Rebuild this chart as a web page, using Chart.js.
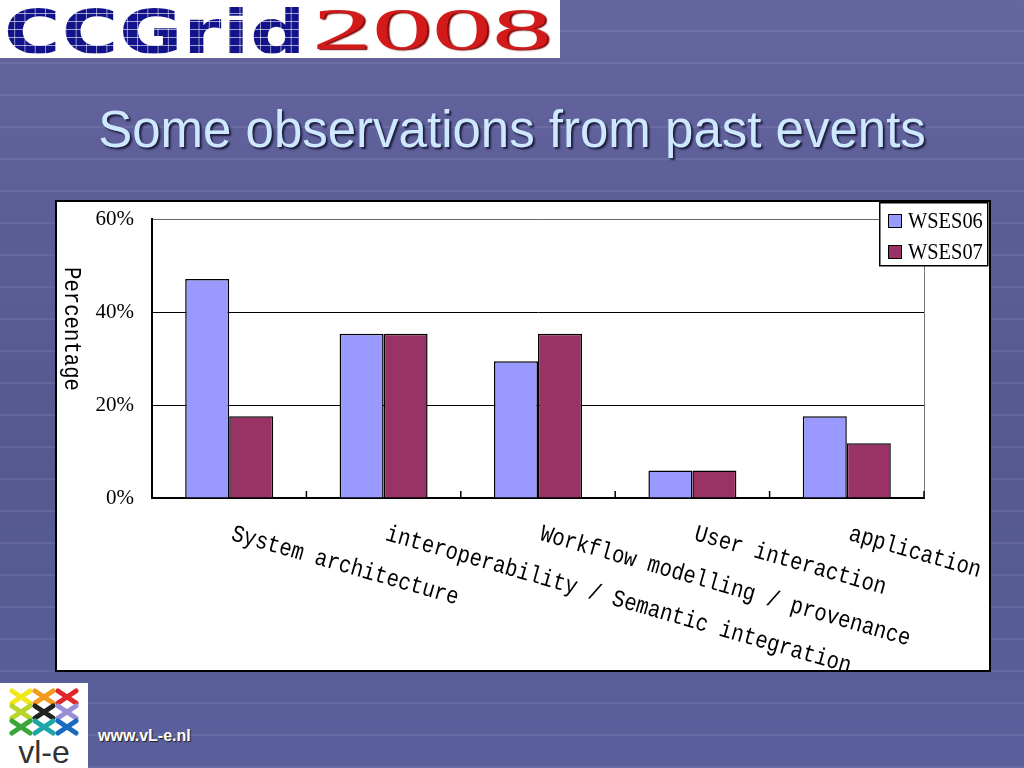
<!DOCTYPE html>
<html>
<head>
<meta charset="utf-8">
<script src="https://cdn.jsdelivr.net/npm/chart.js@4.4.0/dist/chart.umd.min.js"></script>
<style>
  body {
    margin: 0; width: 1024px; height: 768px; overflow: hidden; position: relative;
    background:
      repeating-linear-gradient(to bottom, transparent 0, transparent 30px, rgba(255,255,255,0.07) 30px, rgba(255,255,255,0.07) 32px),
      linear-gradient(to bottom, #66669f 0%, #5b5d97 30%, #55598f 60%, #5b5f9c 100%);
    font-family: "Liberation Sans", Arial, sans-serif;
  }
  #logo { position: absolute; left: 0; top: 0; width: 560px; height: 58px; background: #fff; overflow: hidden; }
  #ccgrid {
    position: absolute; left: 4px; top: -3px; font: bold 60px "DejaVu Sans", sans-serif;
    transform: scaleX(1.28); transform-origin: left top; letter-spacing: 1px;
    background-color: #12128a;
    background-image: linear-gradient(90deg, rgba(255,255,255,0.6) 1px, transparent 1px),
                      linear-gradient(rgba(255,255,255,0.6) 1px, transparent 1px);
    background-size: 8px 8px;
    -webkit-background-clip: text; background-clip: text; -webkit-text-fill-color: transparent;
  }
  #y2008 {
    position: absolute; left: 312px; top: -5px; font: 60px "Liberation Serif", serif; color: #d21a1a;
    transform: scaleX(2.0); transform-origin: left top; text-shadow: 1px 1px 1px #7a0000;
  }
  #title {
    position: absolute; left: 0; top: 100px; width: 1024px; text-align: center;
    font: 51px "Liberation Sans", Arial, sans-serif; color: #cde8ff; line-height: 60px;
    text-shadow: 2px 2px 2px #1c1c3c;
  }
  #box { position: absolute; left: 55px; top: 200px; width: 932px; height: 468px; border: 2px solid #000; background: #fff; }
  #vle { position: absolute; left: 0; top: 683px; width: 88px; height: 85px; background: #fff; }
  #url {
    position: absolute; left: 98px; top: 727px; font: bold 16px "Liberation Sans", Arial, sans-serif;
    color: #fff; text-shadow: 1px 1px 1px #222;
  }
</style>
</head>
<body>
<div id="logo"><span id="ccgrid">CCGrid</span><span id="y2008">2008</span></div>
<div id="title">Some observations from past events</div>
<div id="box"><canvas id="c" width="932" height="468"></canvas></div>
<div id="vle">
  <svg width="88" height="85" viewBox="0 0 88 85">
    <g stroke-width="5" stroke-linecap="round">
      <path d="M12 8 L30 20 M30 8 L12 20" stroke="#f2e61c"/>
      <path d="M35 8 L53 20 M53 8 L35 20" stroke="#f39a1e"/>
      <path d="M58 8 L76 20 M76 8 L58 20" stroke="#e0262a"/>
      <path d="M12 23 L30 35 M30 23 L12 35" stroke="#b8d42a"/>
      <path d="M35 23 L53 35 M53 23 L35 35" stroke="#222"/>
      <path d="M58 23 L76 35 M76 23 L58 35" stroke="#9a8ed6"/>
      <path d="M12 38 L30 50 M30 38 L12 50" stroke="#3aa63a"/>
      <path d="M35 38 L53 50 M53 38 L35 50" stroke="#1ea6a6"/>
      <path d="M58 38 L76 50 M76 38 L58 50" stroke="#1a6ac0"/>
    </g>
    <text x="44" y="80" text-anchor="middle" font-family="Liberation Sans, sans-serif" font-size="32" fill="#333">vl-e</text>
  </svg>
</div>
<div id="url">www.vL-e.nl</div>

<script>
const categories = ['System architecture', 'interoperability / Semantic integration', 'Workflow modelling / provenance', 'User interaction', 'application'];
const seriesNames = ['WSES06', 'WSES07'];
const wses06 = [47.1, 35.3, 29.4, 5.9, 17.6];
const wses07 = [17.6, 35.3, 35.3, 5.9, 11.8];
const yTicks = [0, 20, 40, 60];
const colors = ['#9999ff', '#993366'];

// dibuja etiquetas giradas, título del eje y leyenda con recuadro
const overlay = {
  id: 'overlay',
  afterDraw(chart) {
    const { ctx, chartArea: a, scales: { x } } = chart;
    ctx.save();
    // borde derecho gris del área
    ctx.strokeStyle = '#777'; ctx.lineWidth = 1;
    ctx.beginPath(); ctx.moveTo(a.right + 0.5, a.top); ctx.lineTo(a.right + 0.5, a.bottom); ctx.stroke();
    // marcas del eje x hacia dentro, entre categorías
    ctx.strokeStyle = '#000'; ctx.lineWidth = 1.5;
    for (let i = 1; i <= categories.length; i++) {
      const px = i < categories.length ? (x.getPixelForTick(i - 1) + x.getPixelForTick(i)) / 2 : a.right;
      ctx.beginPath(); ctx.moveTo(px, a.bottom); ctx.lineTo(px, a.bottom - 7); ctx.stroke();
    }
    // etiquetas de categoría
    ctx.fillStyle = '#000';
    ctx.font = '24px "Liberation Mono", monospace';
    ctx.textBaseline = 'top'; ctx.textAlign = 'left';
    categories.forEach((c, i) => {
      ctx.save();
      ctx.translate(x.getPixelForTick(i) + 6, a.bottom + 24);
      ctx.rotate(16 * Math.PI / 180);
      ctx.scale(0.86, 1);
      ctx.fillText(c, 0, 0);
      ctx.restore();
    });
    // título del eje y
    ctx.save();
    ctx.translate(14, 127);
    ctx.rotate(Math.PI / 2);
    ctx.scale(0.86, 1);
    ctx.textAlign = 'center'; ctx.textBaseline = 'middle';
    ctx.fillText('Percentage', 0, 0);
    ctx.restore();
    // leyenda
    const lx = 822, ly = 0;
    ctx.fillStyle = '#fff'; ctx.fillRect(lx, ly, 109, 64);
    ctx.strokeStyle = '#000'; ctx.lineWidth = 1.5; ctx.strokeRect(lx + 0.75, ly + 0.75, 108, 63);
    chart.data.datasets.forEach((ds, i) => {
      const yy = 12 + i * 31;
      ctx.fillStyle = ds.backgroundColor; ctx.fillRect(lx + 9, yy, 14, 14);
      ctx.lineWidth = 1; ctx.strokeRect(lx + 9.5, yy + 0.5, 13, 13);
      ctx.save();
      ctx.translate(lx + 29, yy + 8);
      ctx.scale(0.85, 1);
      ctx.fillStyle = '#000';
      ctx.font = '24px "Liberation Serif", serif';
      ctx.textAlign = 'left'; ctx.textBaseline = 'middle';
      ctx.fillText(ds.label, 0, 0);
      ctx.restore();
    });
    ctx.restore();
  }
};

new Chart(document.getElementById('c'), {
  type: 'bar',
  data: {
    labels: categories,
    datasets: [
      { label: seriesNames[0], data: wses06, backgroundColor: colors[0], borderColor: '#000', borderWidth: 1.5 },
      { label: seriesNames[1], data: wses07, backgroundColor: colors[1], borderColor: '#000', borderWidth: 1.5 }
    ]
  },
  options: {
    responsive: false,
    animation: false,
    devicePixelRatio: 1,
    categoryPercentage: 0.57,
    barPercentage: 1.0,
    layout: { padding: { left: 0, right: 65, top: 17, bottom: 0 } },
    plugins: { legend: { display: false }, tooltip: { enabled: false } },
    scales: {
      x: {
        ticks: { display: false },
        grid: { display: false },
        border: { display: true, color: '#000', width: 2 },
        afterFit(s) { s.height = 172; s.paddingLeft = 0; s.paddingRight = 0; }
      },
      y: {
        min: 0, max: 60,
        afterBuildTicks(s) { s.ticks = yTicks.map(v => ({ value: v })); },
        ticks: { callback: v => v + '%', color: '#000', padding: 18, font: { family: 'Liberation Serif', size: 21 } },
        grid: { drawTicks: false, color: c => c.tick && c.tick.value === 60 ? '#666' : '#000', lineWidth: 1 },
        border: { display: true, color: '#000', width: 2 },
        afterFit(s) { s.width = 95; s.paddingTop = 0; s.paddingBottom = 0; }
      }
    }
  },
  plugins: [overlay]
});
</script>
</body>
</html>
